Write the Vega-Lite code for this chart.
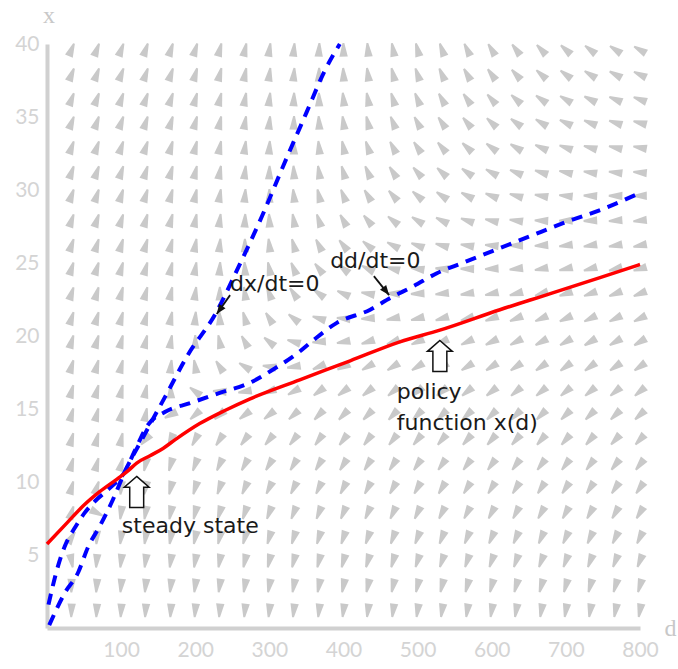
{
"$schema":"https://vega.github.io/schema/vega-lite/v6.json",
"width":593,"height":584,
"autosize":{"type":"none"},
"padding":{"left":47,"top":44,"right":38,"bottom":41},
"background":"white",
"config":{"view":{"stroke":null}},
"datasets":{
"field":[
{"d":33,"x":1.2,"a":182},{"d":33,"x":2.9,"a":181},{"d":33,"x":4.6,"a":169},{"d":33,"x":6.2,"a":32},{"d":33,"x":7.9,"a":18},{"d":33,"x":9.6,"a":16},{"d":33,"x":11.2,"a":16},{"d":33,"x":12.9,"a":16},{"d":33,"x":14.6,"a":16},{"d":33,"x":16.2,"a":16},{"d":33,"x":17.9,"a":17},{"d":33,"x":19.6,"a":17},{"d":33,"x":21.2,"a":18},{"d":33,"x":22.9,"a":18},{"d":33,"x":24.6,"a":18},{"d":33,"x":26.2,"a":19},{"d":33,"x":27.9,"a":19},{"d":33,"x":29.6,"a":20},{"d":33,"x":31.2,"a":20},{"d":33,"x":32.9,"a":20},{"d":33,"x":34.6,"a":21},{"d":33,"x":36.2,"a":21},{"d":33,"x":37.9,"a":22},{"d":33,"x":39.6,"a":22},
{"d":67,"x":1.2,"a":183},{"d":67,"x":2.9,"a":184},{"d":67,"x":4.6,"a":185},{"d":67,"x":6.2,"a":182},{"d":67,"x":7.9,"a":117},{"d":67,"x":9.6,"a":19},{"d":67,"x":11.2,"a":16},{"d":67,"x":12.9,"a":15},{"d":67,"x":14.6,"a":15},{"d":67,"x":16.2,"a":16},{"d":67,"x":17.9,"a":16},{"d":67,"x":19.6,"a":17},{"d":67,"x":21.2,"a":17},{"d":67,"x":22.9,"a":17},{"d":67,"x":24.6,"a":18},{"d":67,"x":26.2,"a":18},{"d":67,"x":27.9,"a":19},{"d":67,"x":29.6,"a":19},{"d":67,"x":31.2,"a":20},{"d":67,"x":32.9,"a":20},{"d":67,"x":34.6,"a":20},{"d":67,"x":36.2,"a":21},{"d":67,"x":37.9,"a":21},{"d":67,"x":39.6,"a":21},
{"d":100,"x":1.2,"a":184},{"d":100,"x":2.9,"a":186},{"d":100,"x":4.6,"a":187},{"d":100,"x":6.2,"a":188},{"d":100,"x":7.9,"a":188},{"d":100,"x":9.6,"a":186},{"d":100,"x":11.2,"a":15},{"d":100,"x":12.9,"a":13},{"d":100,"x":14.6,"a":14},{"d":100,"x":16.2,"a":14},{"d":100,"x":17.9,"a":15},{"d":100,"x":19.6,"a":15},{"d":100,"x":21.2,"a":16},{"d":100,"x":22.9,"a":16},{"d":100,"x":24.6,"a":17},{"d":100,"x":26.2,"a":17},{"d":100,"x":27.9,"a":18},{"d":100,"x":29.6,"a":18},{"d":100,"x":31.2,"a":19},{"d":100,"x":32.9,"a":19},{"d":100,"x":34.6,"a":20},{"d":100,"x":36.2,"a":20},{"d":100,"x":37.9,"a":21},{"d":100,"x":39.6,"a":21},
{"d":133,"x":1.2,"a":184},{"d":133,"x":2.9,"a":186},{"d":133,"x":4.6,"a":188},{"d":133,"x":6.2,"a":189},{"d":133,"x":7.9,"a":190},{"d":133,"x":9.6,"a":192},{"d":133,"x":11.2,"a":193},{"d":133,"x":12.9,"a":222},{"d":133,"x":14.6,"a":11},{"d":133,"x":16.2,"a":12},{"d":133,"x":17.9,"a":13},{"d":133,"x":19.6,"a":14},{"d":133,"x":21.2,"a":15},{"d":133,"x":22.9,"a":16},{"d":133,"x":24.6,"a":16},{"d":133,"x":26.2,"a":17},{"d":133,"x":27.9,"a":17},{"d":133,"x":29.6,"a":18},{"d":133,"x":31.2,"a":18},{"d":133,"x":32.9,"a":19},{"d":133,"x":34.6,"a":19},{"d":133,"x":36.2,"a":20},{"d":133,"x":37.9,"a":20},{"d":133,"x":39.6,"a":20},
{"d":167,"x":1.2,"a":184},{"d":167,"x":2.9,"a":187},{"d":167,"x":4.6,"a":189},{"d":167,"x":6.2,"a":190},{"d":167,"x":7.9,"a":192},{"d":167,"x":9.6,"a":194},{"d":167,"x":11.2,"a":196},{"d":167,"x":12.9,"a":202},{"d":167,"x":14.6,"a":244},{"d":167,"x":16.2,"a":358},{"d":167,"x":17.9,"a":7},{"d":167,"x":19.6,"a":10},{"d":167,"x":21.2,"a":12},{"d":167,"x":22.9,"a":13},{"d":167,"x":24.6,"a":14},{"d":167,"x":26.2,"a":15},{"d":167,"x":27.9,"a":16},{"d":167,"x":29.6,"a":16},{"d":167,"x":31.2,"a":17},{"d":167,"x":32.9,"a":17},{"d":167,"x":34.6,"a":18},{"d":167,"x":36.2,"a":19},{"d":167,"x":37.9,"a":19},{"d":167,"x":39.6,"a":19},
{"d":200,"x":1.2,"a":185},{"d":200,"x":2.9,"a":188},{"d":200,"x":4.6,"a":190},{"d":200,"x":6.2,"a":192},{"d":200,"x":7.9,"a":194},{"d":200,"x":9.6,"a":197},{"d":200,"x":11.2,"a":201},{"d":200,"x":12.9,"a":208},{"d":200,"x":14.6,"a":228},{"d":200,"x":16.2,"a":307},{"d":200,"x":17.9,"a":350},{"d":200,"x":19.6,"a":0},{"d":200,"x":21.2,"a":5},{"d":200,"x":22.9,"a":8},{"d":200,"x":24.6,"a":10},{"d":200,"x":26.2,"a":11},{"d":200,"x":27.9,"a":12},{"d":200,"x":29.6,"a":13},{"d":200,"x":31.2,"a":14},{"d":200,"x":32.9,"a":15},{"d":200,"x":34.6,"a":16},{"d":200,"x":36.2,"a":16},{"d":200,"x":37.9,"a":17},{"d":200,"x":39.6,"a":18},
{"d":233,"x":1.2,"a":185},{"d":233,"x":2.9,"a":189},{"d":233,"x":4.6,"a":191},{"d":233,"x":6.2,"a":194},{"d":233,"x":7.9,"a":197},{"d":233,"x":9.6,"a":200},{"d":233,"x":11.2,"a":205},{"d":233,"x":12.9,"a":213},{"d":233,"x":14.6,"a":230},{"d":233,"x":16.2,"a":274},{"d":233,"x":17.9,"a":327},{"d":233,"x":19.6,"a":348},{"d":233,"x":21.2,"a":356},{"d":233,"x":22.9,"a":1},{"d":233,"x":24.6,"a":4},{"d":233,"x":26.2,"a":6},{"d":233,"x":27.9,"a":8},{"d":233,"x":29.6,"a":10},{"d":233,"x":31.2,"a":11},{"d":233,"x":32.9,"a":12},{"d":233,"x":34.6,"a":13},{"d":233,"x":36.2,"a":14},{"d":233,"x":37.9,"a":15},{"d":233,"x":39.6,"a":15},
{"d":267,"x":1.2,"a":186},{"d":267,"x":2.9,"a":190},{"d":267,"x":4.6,"a":193},{"d":267,"x":6.2,"a":196},{"d":267,"x":7.9,"a":199},{"d":267,"x":9.6,"a":204},{"d":267,"x":11.2,"a":209},{"d":267,"x":12.9,"a":217},{"d":267,"x":14.6,"a":233},{"d":267,"x":16.2,"a":260},{"d":267,"x":17.9,"a":302},{"d":267,"x":19.6,"a":331},{"d":267,"x":21.2,"a":344},{"d":267,"x":22.9,"a":352},{"d":267,"x":24.6,"a":357},{"d":267,"x":26.2,"a":0},{"d":267,"x":27.9,"a":3},{"d":267,"x":29.6,"a":5},{"d":267,"x":31.2,"a":7},{"d":267,"x":32.9,"a":8},{"d":267,"x":34.6,"a":10},{"d":267,"x":36.2,"a":11},{"d":267,"x":37.9,"a":12},{"d":267,"x":39.6,"a":13},
{"d":300,"x":1.2,"a":187},{"d":300,"x":2.9,"a":191},{"d":300,"x":4.6,"a":194},{"d":300,"x":6.2,"a":197},{"d":300,"x":7.9,"a":201},{"d":300,"x":9.6,"a":206},{"d":300,"x":11.2,"a":211},{"d":300,"x":12.9,"a":219},{"d":300,"x":14.6,"a":231},{"d":300,"x":16.2,"a":250},{"d":300,"x":17.9,"a":279},{"d":300,"x":19.6,"a":309},{"d":300,"x":21.2,"a":328},{"d":300,"x":22.9,"a":340},{"d":300,"x":24.6,"a":348},{"d":300,"x":26.2,"a":353},{"d":300,"x":27.9,"a":357},{"d":300,"x":29.6,"a":0},{"d":300,"x":31.2,"a":2},{"d":300,"x":32.9,"a":4},{"d":300,"x":34.6,"a":6},{"d":300,"x":36.2,"a":7},{"d":300,"x":37.9,"a":8},{"d":300,"x":39.6,"a":9},
{"d":333,"x":1.2,"a":187},{"d":333,"x":2.9,"a":191},{"d":333,"x":4.6,"a":195},{"d":333,"x":6.2,"a":198},{"d":333,"x":7.9,"a":202},{"d":333,"x":9.6,"a":206},{"d":333,"x":11.2,"a":211},{"d":333,"x":12.9,"a":218},{"d":333,"x":14.6,"a":228},{"d":333,"x":16.2,"a":241},{"d":333,"x":17.9,"a":261},{"d":333,"x":19.6,"a":287},{"d":333,"x":21.2,"a":309},{"d":333,"x":22.9,"a":326},{"d":333,"x":24.6,"a":337},{"d":333,"x":26.2,"a":344},{"d":333,"x":27.9,"a":350},{"d":333,"x":29.6,"a":354},{"d":333,"x":31.2,"a":357},{"d":333,"x":32.9,"a":359},{"d":333,"x":34.6,"a":2},{"d":333,"x":36.2,"a":3},{"d":333,"x":37.9,"a":5},{"d":333,"x":39.6,"a":6},
{"d":367,"x":1.2,"a":187},{"d":367,"x":2.9,"a":192},{"d":367,"x":4.6,"a":195},{"d":367,"x":6.2,"a":198},{"d":367,"x":7.9,"a":202},{"d":367,"x":9.6,"a":206},{"d":367,"x":11.2,"a":211},{"d":367,"x":12.9,"a":216},{"d":367,"x":14.6,"a":224},{"d":367,"x":16.2,"a":233},{"d":367,"x":17.9,"a":247},{"d":367,"x":19.6,"a":266},{"d":367,"x":21.2,"a":287},{"d":367,"x":22.9,"a":307},{"d":367,"x":24.6,"a":322},{"d":367,"x":26.2,"a":333},{"d":367,"x":27.9,"a":341},{"d":367,"x":29.6,"a":346},{"d":367,"x":31.2,"a":351},{"d":367,"x":32.9,"a":354},{"d":367,"x":34.6,"a":357},{"d":367,"x":36.2,"a":359},{"d":367,"x":37.9,"a":1},{"d":367,"x":39.6,"a":3},
{"d":400,"x":1.2,"a":188},{"d":400,"x":2.9,"a":192},{"d":400,"x":4.6,"a":196},{"d":400,"x":6.2,"a":199},{"d":400,"x":7.9,"a":203},{"d":400,"x":9.6,"a":207},{"d":400,"x":11.2,"a":212},{"d":400,"x":12.9,"a":217},{"d":400,"x":14.6,"a":224},{"d":400,"x":16.2,"a":233},{"d":400,"x":17.9,"a":244},{"d":400,"x":19.6,"a":259},{"d":400,"x":21.2,"a":275},{"d":400,"x":22.9,"a":294},{"d":400,"x":24.6,"a":309},{"d":400,"x":26.2,"a":321},{"d":400,"x":27.9,"a":331},{"d":400,"x":29.6,"a":338},{"d":400,"x":31.2,"a":344},{"d":400,"x":32.9,"a":348},{"d":400,"x":34.6,"a":352},{"d":400,"x":36.2,"a":354},{"d":400,"x":37.9,"a":357},{"d":400,"x":39.6,"a":359},
{"d":433,"x":1.2,"a":188},{"d":433,"x":2.9,"a":193},{"d":433,"x":4.6,"a":197},{"d":433,"x":6.2,"a":200},{"d":433,"x":7.9,"a":204},{"d":433,"x":9.6,"a":208},{"d":433,"x":11.2,"a":212},{"d":433,"x":12.9,"a":217},{"d":433,"x":14.6,"a":224},{"d":433,"x":16.2,"a":231},{"d":433,"x":17.9,"a":240},{"d":433,"x":19.6,"a":252},{"d":433,"x":21.2,"a":266},{"d":433,"x":22.9,"a":281},{"d":433,"x":24.6,"a":297},{"d":433,"x":26.2,"a":310},{"d":433,"x":27.9,"a":321},{"d":433,"x":29.6,"a":329},{"d":433,"x":31.2,"a":336},{"d":433,"x":32.9,"a":341},{"d":433,"x":34.6,"a":346},{"d":433,"x":36.2,"a":349},{"d":433,"x":37.9,"a":352},{"d":433,"x":39.6,"a":355},
{"d":467,"x":1.2,"a":188},{"d":467,"x":2.9,"a":193},{"d":467,"x":4.6,"a":197},{"d":467,"x":6.2,"a":201},{"d":467,"x":7.9,"a":205},{"d":467,"x":9.6,"a":209},{"d":467,"x":11.2,"a":213},{"d":467,"x":12.9,"a":218},{"d":467,"x":14.6,"a":223},{"d":467,"x":16.2,"a":230},{"d":467,"x":17.9,"a":238},{"d":467,"x":19.6,"a":248},{"d":467,"x":21.2,"a":259},{"d":467,"x":22.9,"a":272},{"d":467,"x":24.6,"a":285},{"d":467,"x":26.2,"a":298},{"d":467,"x":27.9,"a":309},{"d":467,"x":29.6,"a":319},{"d":467,"x":31.2,"a":327},{"d":467,"x":32.9,"a":333},{"d":467,"x":34.6,"a":338},{"d":467,"x":36.2,"a":343},{"d":467,"x":37.9,"a":346},{"d":467,"x":39.6,"a":349},
{"d":500,"x":1.2,"a":189},{"d":500,"x":2.9,"a":194},{"d":500,"x":4.6,"a":198},{"d":500,"x":6.2,"a":202},{"d":500,"x":7.9,"a":206},{"d":500,"x":9.6,"a":210},{"d":500,"x":11.2,"a":214},{"d":500,"x":12.9,"a":219},{"d":500,"x":14.6,"a":224},{"d":500,"x":16.2,"a":230},{"d":500,"x":17.9,"a":238},{"d":500,"x":19.6,"a":247},{"d":500,"x":21.2,"a":256},{"d":500,"x":22.9,"a":267},{"d":500,"x":24.6,"a":279},{"d":500,"x":26.2,"a":291},{"d":500,"x":27.9,"a":302},{"d":500,"x":29.6,"a":311},{"d":500,"x":31.2,"a":319},{"d":500,"x":32.9,"a":326},{"d":500,"x":34.6,"a":332},{"d":500,"x":36.2,"a":337},{"d":500,"x":37.9,"a":341},{"d":500,"x":39.6,"a":345},
{"d":533,"x":1.2,"a":189},{"d":533,"x":2.9,"a":194},{"d":533,"x":4.6,"a":199},{"d":533,"x":6.2,"a":202},{"d":533,"x":7.9,"a":207},{"d":533,"x":9.6,"a":211},{"d":533,"x":11.2,"a":215},{"d":533,"x":12.9,"a":220},{"d":533,"x":14.6,"a":225},{"d":533,"x":16.2,"a":231},{"d":533,"x":17.9,"a":238},{"d":533,"x":19.6,"a":246},{"d":533,"x":21.2,"a":254},{"d":533,"x":22.9,"a":264},{"d":533,"x":24.6,"a":275},{"d":533,"x":26.2,"a":285},{"d":533,"x":27.9,"a":296},{"d":533,"x":29.6,"a":305},{"d":533,"x":31.2,"a":313},{"d":533,"x":32.9,"a":320},{"d":533,"x":34.6,"a":326},{"d":533,"x":36.2,"a":331},{"d":533,"x":37.9,"a":336},{"d":533,"x":39.6,"a":340},
{"d":567,"x":1.2,"a":189},{"d":567,"x":2.9,"a":195},{"d":567,"x":4.6,"a":199},{"d":567,"x":6.2,"a":203},{"d":567,"x":7.9,"a":208},{"d":567,"x":9.6,"a":212},{"d":567,"x":11.2,"a":216},{"d":567,"x":12.9,"a":221},{"d":567,"x":14.6,"a":226},{"d":567,"x":16.2,"a":231},{"d":567,"x":17.9,"a":238},{"d":567,"x":19.6,"a":245},{"d":567,"x":21.2,"a":252},{"d":567,"x":22.9,"a":261},{"d":567,"x":24.6,"a":271},{"d":567,"x":26.2,"a":280},{"d":567,"x":27.9,"a":289},{"d":567,"x":29.6,"a":298},{"d":567,"x":31.2,"a":306},{"d":567,"x":32.9,"a":313},{"d":567,"x":34.6,"a":320},{"d":567,"x":36.2,"a":325},{"d":567,"x":37.9,"a":330},{"d":567,"x":39.6,"a":334},
{"d":600,"x":1.2,"a":190},{"d":600,"x":2.9,"a":195},{"d":600,"x":4.6,"a":200},{"d":600,"x":6.2,"a":204},{"d":600,"x":7.9,"a":208},{"d":600,"x":9.6,"a":212},{"d":600,"x":11.2,"a":216},{"d":600,"x":12.9,"a":221},{"d":600,"x":14.6,"a":226},{"d":600,"x":16.2,"a":231},{"d":600,"x":17.9,"a":237},{"d":600,"x":19.6,"a":244},{"d":600,"x":21.2,"a":250},{"d":600,"x":22.9,"a":258},{"d":600,"x":24.6,"a":267},{"d":600,"x":26.2,"a":275},{"d":600,"x":27.9,"a":283},{"d":600,"x":29.6,"a":292},{"d":600,"x":31.2,"a":299},{"d":600,"x":32.9,"a":307},{"d":600,"x":34.6,"a":313},{"d":600,"x":36.2,"a":319},{"d":600,"x":37.9,"a":324},{"d":600,"x":39.6,"a":329},
{"d":633,"x":1.2,"a":190},{"d":633,"x":2.9,"a":196},{"d":633,"x":4.6,"a":200},{"d":633,"x":6.2,"a":204},{"d":633,"x":7.9,"a":208},{"d":633,"x":9.6,"a":212},{"d":633,"x":11.2,"a":216},{"d":633,"x":12.9,"a":221},{"d":633,"x":14.6,"a":225},{"d":633,"x":16.2,"a":230},{"d":633,"x":17.9,"a":236},{"d":633,"x":19.6,"a":242},{"d":633,"x":21.2,"a":248},{"d":633,"x":22.9,"a":255},{"d":633,"x":24.6,"a":263},{"d":633,"x":26.2,"a":270},{"d":633,"x":27.9,"a":278},{"d":633,"x":29.6,"a":286},{"d":633,"x":31.2,"a":293},{"d":633,"x":32.9,"a":301},{"d":633,"x":34.6,"a":307},{"d":633,"x":36.2,"a":313},{"d":633,"x":37.9,"a":318},{"d":633,"x":39.6,"a":323},
{"d":667,"x":1.2,"a":190},{"d":667,"x":2.9,"a":196},{"d":667,"x":4.6,"a":201},{"d":667,"x":6.2,"a":204},{"d":667,"x":7.9,"a":209},{"d":667,"x":9.6,"a":213},{"d":667,"x":11.2,"a":217},{"d":667,"x":12.9,"a":221},{"d":667,"x":14.6,"a":225},{"d":667,"x":16.2,"a":230},{"d":667,"x":17.9,"a":235},{"d":667,"x":19.6,"a":241},{"d":667,"x":21.2,"a":246},{"d":667,"x":22.9,"a":252},{"d":667,"x":24.6,"a":259},{"d":667,"x":26.2,"a":266},{"d":667,"x":27.9,"a":273},{"d":667,"x":29.6,"a":280},{"d":667,"x":31.2,"a":287},{"d":667,"x":32.9,"a":294},{"d":667,"x":34.6,"a":301},{"d":667,"x":36.2,"a":306},{"d":667,"x":37.9,"a":312},{"d":667,"x":39.6,"a":317},
{"d":700,"x":1.2,"a":190},{"d":700,"x":2.9,"a":196},{"d":700,"x":4.6,"a":201},{"d":700,"x":6.2,"a":205},{"d":700,"x":7.9,"a":209},{"d":700,"x":9.6,"a":213},{"d":700,"x":11.2,"a":217},{"d":700,"x":12.9,"a":221},{"d":700,"x":14.6,"a":225},{"d":700,"x":16.2,"a":230},{"d":700,"x":17.9,"a":234},{"d":700,"x":19.6,"a":240},{"d":700,"x":21.2,"a":245},{"d":700,"x":22.9,"a":251},{"d":700,"x":24.6,"a":257},{"d":700,"x":26.2,"a":263},{"d":700,"x":27.9,"a":270},{"d":700,"x":29.6,"a":276},{"d":700,"x":31.2,"a":283},{"d":700,"x":32.9,"a":289},{"d":700,"x":34.6,"a":296},{"d":700,"x":36.2,"a":301},{"d":700,"x":37.9,"a":307},{"d":700,"x":39.6,"a":312},
{"d":733,"x":1.2,"a":190},{"d":733,"x":2.9,"a":196},{"d":733,"x":4.6,"a":201},{"d":733,"x":6.2,"a":205},{"d":733,"x":7.9,"a":209},{"d":733,"x":9.6,"a":213},{"d":733,"x":11.2,"a":217},{"d":733,"x":12.9,"a":221},{"d":733,"x":14.6,"a":225},{"d":733,"x":16.2,"a":230},{"d":733,"x":17.9,"a":234},{"d":733,"x":19.6,"a":239},{"d":733,"x":21.2,"a":244},{"d":733,"x":22.9,"a":250},{"d":733,"x":24.6,"a":255},{"d":733,"x":26.2,"a":261},{"d":733,"x":27.9,"a":267},{"d":733,"x":29.6,"a":273},{"d":733,"x":31.2,"a":279},{"d":733,"x":32.9,"a":286},{"d":733,"x":34.6,"a":292},{"d":733,"x":36.2,"a":297},{"d":733,"x":37.9,"a":302},{"d":733,"x":39.6,"a":308},
{"d":767,"x":1.2,"a":191},{"d":767,"x":2.9,"a":197},{"d":767,"x":4.6,"a":202},{"d":767,"x":6.2,"a":206},{"d":767,"x":7.9,"a":210},{"d":767,"x":9.6,"a":214},{"d":767,"x":11.2,"a":218},{"d":767,"x":12.9,"a":222},{"d":767,"x":14.6,"a":226},{"d":767,"x":16.2,"a":230},{"d":767,"x":17.9,"a":235},{"d":767,"x":19.6,"a":240},{"d":767,"x":21.2,"a":244},{"d":767,"x":22.9,"a":249},{"d":767,"x":24.6,"a":255},{"d":767,"x":26.2,"a":260},{"d":767,"x":27.9,"a":266},{"d":767,"x":29.6,"a":271},{"d":767,"x":31.2,"a":277},{"d":767,"x":32.9,"a":283},{"d":767,"x":34.6,"a":288},{"d":767,"x":36.2,"a":293},{"d":767,"x":37.9,"a":299},{"d":767,"x":39.6,"a":304},
{"d":800,"x":1.2,"a":191},{"d":800,"x":2.9,"a":197},{"d":800,"x":4.6,"a":202},{"d":800,"x":6.2,"a":206},{"d":800,"x":7.9,"a":211},{"d":800,"x":9.6,"a":215},{"d":800,"x":11.2,"a":218},{"d":800,"x":12.9,"a":222},{"d":800,"x":14.6,"a":227},{"d":800,"x":16.2,"a":230},{"d":800,"x":17.9,"a":235},{"d":800,"x":19.6,"a":239},{"d":800,"x":21.2,"a":244},{"d":800,"x":22.9,"a":249},{"d":800,"x":24.6,"a":254},{"d":800,"x":26.2,"a":259},{"d":800,"x":27.9,"a":264},{"d":800,"x":29.6,"a":269},{"d":800,"x":31.2,"a":275},{"d":800,"x":32.9,"a":280},{"d":800,"x":34.6,"a":285},{"d":800,"x":36.2,"a":290},{"d":800,"x":37.9,"a":295},{"d":800,"x":39.6,"a":300}
],
"blue":[
{"c":"dx","d":3,"x":0.2},{"c":"dx","d":24,"x":2.4},{"c":"dx","d":42,"x":3.8},{"c":"dx","d":55,"x":5.5},{"c":"dx","d":72,"x":7.05},{"c":"dx","d":89,"x":8.8},{"c":"dx","d":105,"x":10.7},{"c":"dx","d":130,"x":13.1},{"c":"dx","d":160,"x":15.9},{"c":"dx","d":190,"x":18.7},{"c":"dx","d":227,"x":21.5},{"c":"dx","d":260,"x":24.9},{"c":"dx","d":290,"x":28.2},{"c":"dx","d":320,"x":31.8},{"c":"dx","d":350,"x":35.3},{"c":"dx","d":375,"x":38.2},{"c":"dx","d":395,"x":40},
{"c":"dd","d":2,"x":1.6},{"c":"dd","d":13.5,"x":4},{"c":"dd","d":24,"x":5.6},{"c":"dd","d":38,"x":6.9},{"c":"dd","d":51,"x":7.9},{"c":"dd","d":65,"x":8.7},{"c":"dd","d":85,"x":9.6},{"c":"dd","d":105,"x":10.7},{"c":"dd","d":119,"x":12.2},{"c":"dd","d":136,"x":13.9},{"c":"dd","d":159,"x":14.8},{"c":"dd","d":193,"x":15.4},{"c":"dd","d":233,"x":16.1},{"c":"dd","d":274,"x":16.8},{"c":"dd","d":308,"x":17.8},{"c":"dd","d":340,"x":18.9},{"c":"dd","d":359,"x":19.7},{"c":"dd","d":391,"x":20.9},{"c":"dd","d":436,"x":21.8},{"c":"dd","d":463,"x":22.6},{"c":"dd","d":494,"x":23.4},{"c":"dd","d":526,"x":24.3},{"c":"dd","d":560,"x":25.0},{"c":"dd","d":600,"x":25.8},{"c":"dd","d":650,"x":26.8},{"c":"dd","d":700,"x":27.8},{"c":"dd","d":750,"x":28.7},{"c":"dd","d":800,"x":29.8}
],
"red":[
{"d":0,"x":5.75},{"d":27,"x":7.2},{"d":48.6,"x":8.35},{"d":71.5,"x":9.35},{"d":94.5,"x":10.2},{"d":110,"x":10.8},{"d":121,"x":11.3},{"d":139,"x":11.8},{"d":156.5,"x":12.3},{"d":173,"x":12.9},{"d":206,"x":14.0},{"d":240,"x":14.9},{"d":274,"x":15.7},{"d":341,"x":17.0},{"d":409,"x":18.3},{"d":476,"x":19.6},{"d":530,"x":20.4},{"d":611,"x":21.8},{"d":679,"x":22.9},{"d":746,"x":24.0},{"d":800,"x":24.9}
],
"labels":[
{"d":247,"x":23.1,"t":"dx/dt=0"},{"d":382,"x":24.66,"t":"dd/dt=0"},{"d":101,"x":6.5,"t":"steady state"},{"d":472,"x":15.7,"t":"policy"},{"d":472,"x":13.56,"t":"function x(d)"}
],
"pointers":[
{"d":247,"x":22.8,"d2":229,"x2":21.5,"a":215},{"d":441,"x":24.1,"d2":461.5,"x2":22.8,"a":142}
],
"blocks":[
{"d":121,"x":9.32,"what":"steady state"},{"d":530,"x":18.63,"what":"policy"}
]
},
"layer":[
{"data":{"name":"field"},
 "mark":{"type":"point","shape":"M -0.55 0.9 L 0.55 0.9 L 0.12 -0.9 L -0.12 -0.9 Z","filled":true,"color":"#c9c9c9","opacity":1,"size":230,"strokeWidth":0},
 "encoding":{
  "x":{"field":"d","type":"quantitative","scale":{"domain":[0,800],"nice":false,"zero":false},
   "axis":{"values":[100,200,300,400,500,600,700,800],"title":"d","titleX":623,"titleY":7,"titleAlign":"center","titleBaseline":"alphabetic","titleFont":"Liberation Serif","titleFontSize":24,"titleFontWeight":"normal","titleColor":"#c8c8c8","ticks":false,"tickSize":0,"grid":false,"domainColor":"#d0d0d0","domainWidth":4,"labelFont":"Lato","labelFontSize":21,"labelColor":"#d4d4d4","labelPadding":11,"labelFlush":false}},
  "y":{"field":"x","type":"quantitative","scale":{"domain":[0,40],"nice":false,"zero":false},
   "axis":{"values":[5,10,15,20,25,30,35,40],"title":"x","titleX":1.5,"titleY":-22,"titleAngle":0,"titleAlign":"center","titleBaseline":"alphabetic","titleFont":"Liberation Serif","titleFontSize":24,"titleFontWeight":"normal","titleColor":"#c8c8c8","ticks":false,"tickSize":0,"grid":false,"domainColor":"#d0d0d0","domainWidth":4,"labelFont":"Lato","labelFontSize":21,"labelColor":"#d4d4d4","labelPadding":8,"labelFlush":false}},
  "angle":{"field":"a","type":"quantitative","scale":null}
 }},
{"data":{"name":"blue"},
 "mark":{"type":"line","color":"#0000ff","strokeWidth":4,"strokeDash":[11,8],"interpolate":"monotone"},
 "encoding":{"x":{"field":"d","type":"quantitative"},"y":{"field":"x","type":"quantitative"},"detail":{"field":"c","type":"nominal"}}},
{"data":{"name":"red"},
 "mark":{"type":"line","color":"#ff0000","strokeWidth":3.5,"interpolate":"monotone"},
 "encoding":{"x":{"field":"d","type":"quantitative"},"y":{"field":"x","type":"quantitative"}}},
{"data":{"name":"blocks"},
 "mark":{"type":"point","shape":"M 0 -1 L 0.8 -0.3 L 0.45 -0.3 L 0.45 1 L -0.45 1 L -0.45 -0.3 L -0.8 -0.3 Z","filled":true,"fill":"white","stroke":"#111111","strokeWidth":1.5,"opacity":1,"size":961},
 "encoding":{"x":{"field":"d","type":"quantitative"},"y":{"field":"x","type":"quantitative"}}},
{"data":{"name":"pointers"},
 "mark":{"type":"rule","color":"#111111","strokeWidth":1.8},
 "encoding":{"x":{"field":"d","type":"quantitative"},"y":{"field":"x","type":"quantitative"},"x2":{"field":"d2"},"y2":{"field":"x2"}}},
{"data":{"name":"pointers"},
 "mark":{"type":"point","shape":"M 0 0 L 0.6 1.5 L -0.6 1.5 Z","filled":true,"color":"#111111","opacity":1,"size":169,"strokeWidth":0},
 "encoding":{"x":{"field":"d2","type":"quantitative"},"y":{"field":"x2","type":"quantitative"},"angle":{"field":"a","type":"quantitative","scale":null}}},
{"data":{"name":"labels"},
 "mark":{"type":"text","align":"left","baseline":"alphabetic","font":"DejaVu Sans","fontSize":22,"color":"#1a1a1a"},
 "encoding":{"x":{"field":"d","type":"quantitative"},"y":{"field":"x","type":"quantitative"},"text":{"field":"t"}}}
]
}
